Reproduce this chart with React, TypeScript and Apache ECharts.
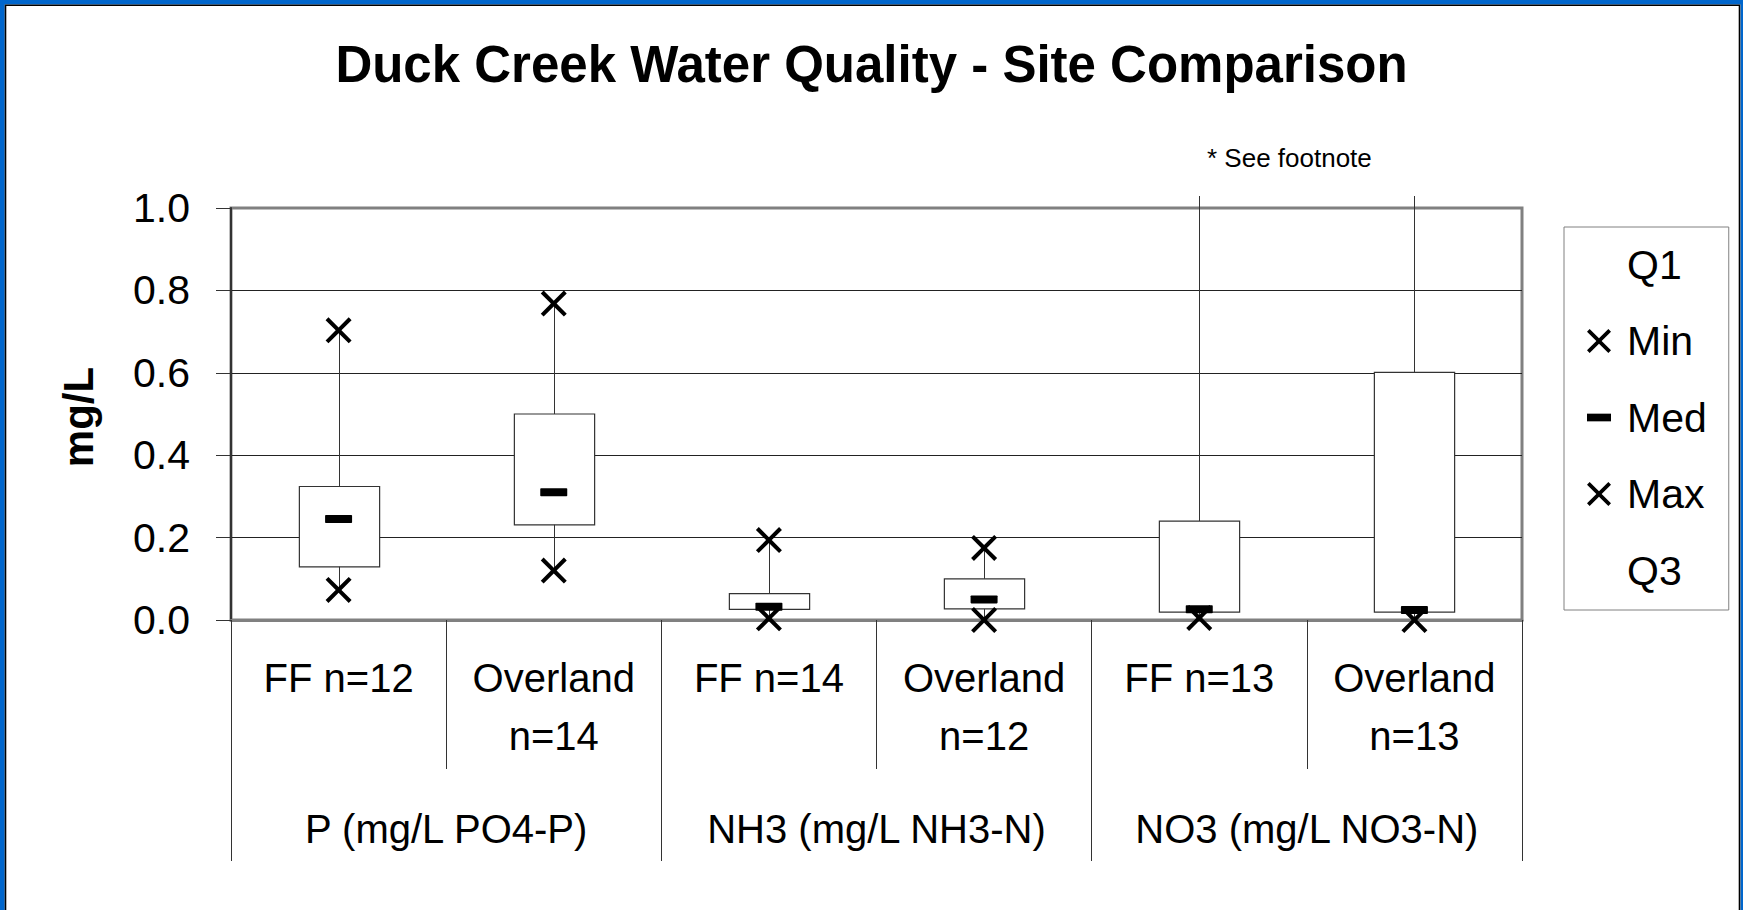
import React, { useEffect, useRef } from "react";
import * as echarts from "echarts";

const siteLabels = ["FF n=12", "Overland\nn=14", "FF n=14", "Overland\nn=12", "FF n=13", "Overland\nn=13"];
const groupLabels = ["P (mg/L PO4-P)", "NH3 (mg/L NH3-N)", "NO3 (mg/L NO3-N)"];
const yTicks = [0, 0.2, 0.4, 0.6, 0.8, 1.0];

const q1Values = [0.129, 0.231, 0.026, 0.027, 0.019, 0.019];
const q3Values = [0.324, 0.5, 0.064, 0.1, 0.24, 0.601];
const medValues = [0.245, 0.31, 0.032, 0.05, 0.026, 0.024];
const minValues = [0.073, 0.12, 0.004, 0.0, 0.005, 0.0];
// NO3 maxima are off the chart (see footnote)
const maxValues = [0.703, 0.768, 0.194, 0.175, 1.6, 1.6];

const FONT = "'Liberation Sans', Arial, Helvetica, sans-serif";
const X_PATH =
  "path://M0,11 L11,0 L50,39 L89,0 L100,11 L61,50 L100,89 L89,100 L50,61 L11,100 L0,89 L39,50 Z";
const DASH_PATH = "path://M3,0 L97,0 Q100,0 100,3 L100,27 Q100,30 97,30 L3,30 Q0,30 0,27 L0,3 Q0,0 3,0 Z";

export default function App() {
  const ref = useRef<HTMLDivElement>(null);

  useEffect(() => {
    if (!ref.current) return;
    const chart = echarts.init(ref.current, null, { renderer: "svg" });

    const boxData = siteLabels.map((_, i) => [i, q1Values[i], q3Values[i], minValues[i], maxValues[i]]);

    const option: any = {
      animation: false,
      backgroundColor: "#fff",
      textStyle: { fontFamily: FONT, color: "#000" },
      title: {
        text: "Duck Creek Water Quality - Site Comparison",
        left: "center",
        top: 39,
        padding: 0,
        textStyle: { fontFamily: FONT, fontSize: 51, fontWeight: "bold", color: "#000" },
      },
      legend: {
        orient: "vertical",
        left: 1564,
        top: 227,
        padding: [17, 22, 19, 23],
        borderColor: "#808080",
        borderWidth: 1,
        itemWidth: 24,
        itemHeight: 24,
        itemGap: 35.5,
        symbolKeepAspect: true,
        textStyle: { fontFamily: FONT, fontSize: 41, color: "#000", padding: [0, 0, 0, 11] },
        selectedMode: false,
        data: [
          { name: "Q1", icon: "none", itemStyle: { opacity: 0 } },
          { name: "Min", icon: X_PATH, itemStyle: { color: "#000", opacity: 1 } },
          { name: "Med", icon: "path://M0,0 L100,0 L100,32 L0,32 Z", itemStyle: { color: "#000", opacity: 1 } },
          { name: "Max", icon: X_PATH, itemStyle: { color: "#000", opacity: 1 } },
          { name: "Q3", icon: "none", itemStyle: { opacity: 0 } },
        ],
      },
      grid: {
        left: 231,
        top: 208,
        right: 221,
        bottom: 290,
        show: true,
        borderColor: "#808080",
        borderWidth: 3,
        backgroundColor: "#fff",
      },
      xAxis: [
        {
          type: "category",
          data: siteLabels,
          boundaryGap: true,
          position: "bottom",
          axisLine: { show: true, lineStyle: { color: "#808080", width: 3 } },
          axisTick: { show: true, interval: 0, length: 149, lineStyle: { color: "#333", width: 1 } },
          axisLabel: {
            interval: 0,
            margin: 29,
            fontSize: 40,
            lineHeight: 58,
            color: "#000",
            fontFamily: FONT,
          },
          splitLine: { show: false },
        },
        {
          type: "category",
          data: groupLabels,
          boundaryGap: true,
          position: "bottom",
          offset: 149,
          axisLine: { show: false },
          axisTick: { show: true, interval: 0, length: 92, lineStyle: { color: "#333", width: 1 } },
          axisLabel: {
            interval: 0,
            margin: 31,
            fontSize: 40,
            lineHeight: 58,
            color: "#000",
            fontFamily: FONT,
          },
          splitLine: { show: false },
        },
      ],
      yAxis: {
        type: "value",
        min: yTicks[0],
        max: yTicks[yTicks.length - 1],
        interval: 0.2,
        axisLine: { show: true, lineStyle: { color: "#333", width: 2 } },
        axisTick: { show: true, length: 15, lineStyle: { color: "#333", width: 1 } },
        axisLabel: {
          margin: 41,
          fontSize: 41,
          color: "#000",
          fontFamily: FONT,
          formatter: (v: number) => v.toFixed(1),
        },
        splitLine: { show: true, showMinLine: false, showMaxLine: false, lineStyle: { color: "#222", width: 1 } },
      },
      graphic: [
        { type: "rect", shape: { x: 0, y: 0, width: 1743, height: 4.5 }, style: { fill: "#0066CC" }, silent: true },
        { type: "rect", shape: { x: 0, y: 0, width: 4.7, height: 910 }, style: { fill: "#0066CC" }, silent: true },
        { type: "rect", shape: { x: 1740.5, y: 0, width: 2.5, height: 910 }, style: { fill: "#0066CC" }, silent: true },
        {
          type: "polyline",
          shape: { points: [[5.5, 910], [5.5, 5.3], [1739.5, 5.3], [1739.5, 910]] },
          style: { stroke: "#000", lineWidth: 1.6, fill: "none" },
          silent: true,
        },
        {
          type: "text",
          x: 78,
          y: 417,
          rotation: Math.PI / 2,
          style: {
            text: "mg/L",
            fontFamily: FONT,
            fontSize: 42,
            fontWeight: "bold",
            fill: "#000",
            align: "center",
            verticalAlign: "middle",
          },
        },
        {
          type: "text",
          x: 1207,
          y: 158,
          style: {
            text: "* See footnote",
            fontFamily: FONT,
            fontSize: 26,
            fill: "#000",
            align: "left",
            verticalAlign: "middle",
          },
        },
      ],
      series: [
        {
          name: "Q1",
          type: "line",
          data: q1Values,
          symbol: "none",
          lineStyle: { opacity: 0, width: 0 },
          silent: true,
        },
        {
          name: "Box",
          type: "custom",
          data: boxData,
          encode: { x: 0, y: [1, 2, 3, 4] },
          clip: false,
          renderItem: (params: any, api: any) => {
            const i = api.value(0);
            const cs = params.coordSys;
            const p1 = api.coord([i, api.value(1)]);
            const p3 = api.coord([i, api.value(2)]);
            const pLo = api.coord([i, api.value(3)]);
            const pHi = api.coord([i, api.value(4)]);
            const cx = Math.round(p1[0]) + 0.5;
            const yHi = Math.max(pHi[1], cs.y - 12);
            const w = api.size([1, 0])[0] * 0.373;
            return {
              type: "group",
              children: [
                {
                  type: "line",
                  shape: { x1: cx, y1: yHi, x2: cx, y2: pLo[1] },
                  style: { stroke: "#333", lineWidth: 1 },
                },
                {
                  type: "rect",
                  shape: { x: cx - w / 2, y: p3[1], width: w, height: p1[1] - p3[1] },
                  style: { fill: "#fff", stroke: "#333", lineWidth: 1.2 },
                },
              ],
            };
          },
        },
        {
          name: "Min",
          type: "scatter",
          data: minValues,
          symbol: X_PATH,
          symbolSize: 26,
          clip: false,
          itemStyle: { color: "#000", opacity: 1 },
          z: 4,
        },
        {
          name: "Med",
          type: "scatter",
          data: medValues,
          symbol: DASH_PATH,
          symbolSize: [27, 8],
          symbolKeepAspect: false,
          clip: false,
          itemStyle: { color: "#000", opacity: 1 },
          z: 5,
        },
        {
          name: "Max",
          type: "scatter",
          data: maxValues,
          symbol: X_PATH,
          symbolSize: 26,
          clip: true,
          itemStyle: { color: "#000", opacity: 1 },
          z: 4,
        },
        {
          name: "Q3",
          type: "line",
          data: q3Values,
          symbol: "none",
          lineStyle: { opacity: 0, width: 0 },
          silent: true,
        },
      ],
    };

    chart.setOption(option);
    return () => chart.dispose();
  }, []);

  return (
    <div
      ref={ref}
      style={{ position: "fixed", left: 0, top: 0, width: "1743px", height: "910px", background: "#fff" }}
    />
  );
}
